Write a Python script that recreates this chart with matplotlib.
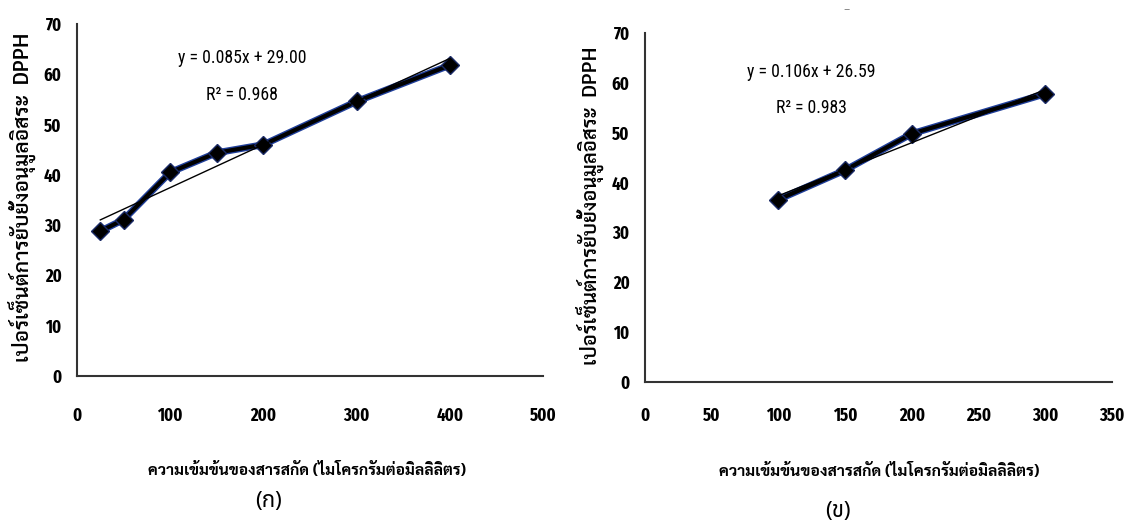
import matplotlib
matplotlib.use("Agg")
import matplotlib.pyplot as plt
import numpy as np

# ---------------- data ----------------
conc_a = [25, 50, 100, 150, 200, 300, 400]
inhib_a = [28.8, 31.1, 40.5, 44.4, 46.0, 54.6, 61.8]
eq_a = "y = 0.085x + 29.00"
r2_a = "R² = 0.968"

conc_b = [100, 150, 200, 300]
inhib_b = [36.6, 42.5, 49.8, 57.8]
eq_b = "y = 0.106x + 26.59"
r2_b = "R² = 0.983"

xticks_a = [0, 100, 200, 300, 400, 500]
xticks_b = [0, 50, 100, 150, 200, 250, 300, 350]
yticks = [0, 10, 20, 30, 40, 50, 60, 70]

ylabel = "เปอร์เซ็นต์การยับยั้งอนุมูลอิสระ  DPPH"
xlabel = "ความเข้มข้นของสารสกัด (ไมโครกรัมต่อมิลลิลิตร)"
panel_a = "(ก)"
panel_b = "(ข)"

NUM = ["Fira Sans Extra Condensed", "Roboto Condensed", "DejaVu Sans"]
EQ = ["Roboto Condensed", "DejaVu Sans"]
THAI_B = ["Sarabun", "Loma", "Noto Sans Thai Looped", "DejaVu Sans"]
THAI_P = ["Noto Sans Thai", "DejaVu Sans"]
plt.rcParams['font.family'] = THAI_B

W, H = 1128, 529
fig = plt.figure(figsize=(W / 100, H / 100), dpi=100)


def px(x, y):
    return x / W, 1 - y / H


def panel(x0, x1, ytop, ybot, xs, ys, xticks, xmax, tickpad):
    ax = fig.add_axes([x0 / W, 1 - ybot / H, (x1 - x0) / W, (ybot - ytop) / H])
    ax.plot(xs, ys, color="#203f9a", lw=5.0, zorder=3, solid_joinstyle="round")
    ax.plot(xs, ys, color="black", lw=3.0, marker="D", ms=9, mfc="black",
            mec="#1a2a66", mew=1.0, zorder=4, solid_joinstyle="round")
    p = np.polyfit(xs, ys, 1)
    xx = np.array([xs[0], xs[-1]])
    ax.plot(xx, np.polyval(p, xx), color="black", lw=1.0, zorder=5)
    ax.set_xlim(0, xmax)
    ax.set_ylim(0, 70)
    ax.set_xticks(xticks)
    ax.set_yticks(yticks)
    for s in ["top", "right"]:
        ax.spines[s].set_visible(False)
    for s in ["left", "bottom"]:
        ax.spines[s].set_linewidth(1.5)
        ax.spines[s].set_color("#333333")
    ax.tick_params(axis="both", length=0, labelsize=13)
    ax.tick_params(axis="x", pad=tickpad)
    ax.tick_params(axis="y", pad=11)
    for lab in ax.get_xticklabels() + ax.get_yticklabels():
        lab.set_fontfamily(NUM)
        lab.set_fontweight("bold")
    return ax


ax1 = panel(77, 543, 24, 376, conc_a, inhib_a, xticks_a, 500, 22)
ax2 = panel(645, 1112, 33, 382, conc_b, inhib_b, xticks_b, 350, 18)

fig.canvas.draw()
renderer = fig.canvas.get_renderer()


def fitted(x, y, s, target, vertical=False, **kw):
    t = fig.text(*px(x, y), s, ha="center", va="center", **kw)
    bb = t.get_window_extent(renderer)
    cur = bb.height if vertical else bb.width
    t.set_fontsize(t.get_fontsize() * target / cur)
    return t

# equations
fitted(242, 58, eq_a, 128, family=EQ, fontsize=12)
fitted(242, 95, r2_a, 72, family=EQ, fontsize=12)
fitted(811, 72, eq_b, 128, family=EQ, fontsize=12)
fitted(811, 108, r2_b, 71, family=EQ, fontsize=12)

# axis titles
fitted(22, 197, ylabel, 330, vertical=True, rotation=90, family=THAI_B,
       fontweight="semibold", fontsize=12)
fitted(590, 206, ylabel, 318, vertical=True, rotation=90, family=THAI_B,
       fontweight="semibold", fontsize=12)
fitted(307, 470, xlabel, 318, family=THAI_B, fontweight="bold", fontsize=12)
fitted(879, 471, xlabel, 320, family=THAI_B, fontweight="bold", fontsize=12)

# panel letters
fig.text(*px(268, 502), panel_a, ha="center", va="center", family=THAI_P,
         fontsize=16)
fig.text(*px(838, 512), panel_b, ha="center", va="center", family=THAI_P,
         fontsize=16)

fig.text(*px(847, 10), "–", ha="center", va="center", fontsize=9,
         color="#888888", family="DejaVu Sans")

fig.savefig("out.png", dpi=100)
